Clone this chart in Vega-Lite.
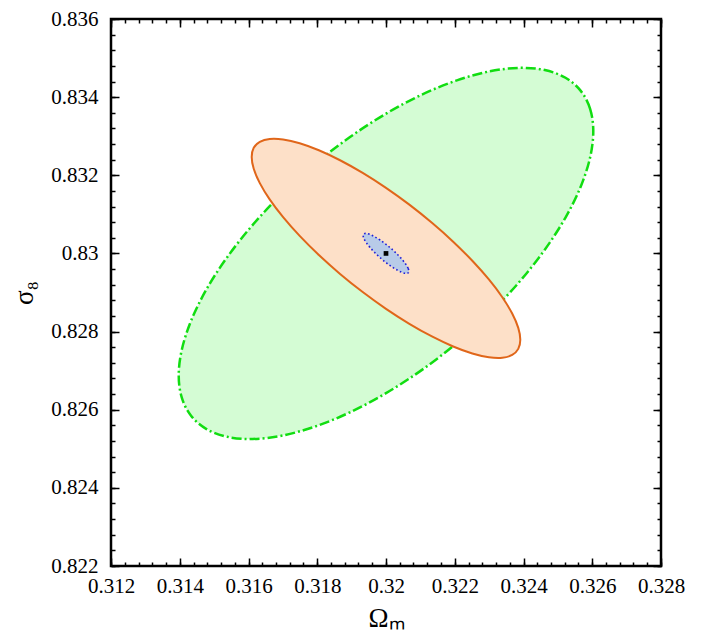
{
  "$schema": "https://vega.github.io/schema/vega-lite/v6.json",
  "width": 550,
  "height": 547,
  "autosize": "none",
  "padding": {"left": 111, "top": 19, "right": 40, "bottom": 71},
  "background": "white",
  "config": {
    "view": {"stroke": "black", "strokeWidth": 2.5},
    "axis": {
      "domain": false,
      "grid": false,
      "tickColor": "black",
      "tickWidth": 1.5,
      "labelFont": "Liberation Serif",
      "labelFontSize": 21,
      "labelColor": "black",
      "labelOverlap": false,
      "labelFlush": false,
      "titleFont": "Liberation Serif",
      "titleFontSize": 27,
      "titleFontWeight": "normal",
      "titleColor": "black"
    }
  },
  "datasets": {
    "green": [
      {"i": 0, "x": 0.32603, "y": 0.833126},
      {"i": 1, "x": 0.325938, "y": 0.8337},
      {"i": 2, "x": 0.325666, "y": 0.83416},
      {"i": 3, "x": 0.325222, "y": 0.834496},
      {"i": 4, "x": 0.324619, "y": 0.834694},
      {"i": 5, "x": 0.323876, "y": 0.834749},
      {"i": 6, "x": 0.323015, "y": 0.834661},
      {"i": 7, "x": 0.322062, "y": 0.83443},
      {"i": 8, "x": 0.321047, "y": 0.834066},
      {"i": 9, "x": 0.32, "y": 0.833577},
      {"i": 10, "x": 0.318953, "y": 0.83298},
      {"i": 11, "x": 0.317938, "y": 0.832292},
      {"i": 12, "x": 0.316985, "y": 0.831535},
      {"i": 13, "x": 0.316124, "y": 0.830731},
      {"i": 14, "x": 0.315381, "y": 0.829904},
      {"i": 15, "x": 0.314778, "y": 0.829082},
      {"i": 16, "x": 0.314334, "y": 0.828286},
      {"i": 17, "x": 0.314062, "y": 0.827542},
      {"i": 18, "x": 0.31397, "y": 0.826874},
      {"i": 19, "x": 0.314062, "y": 0.8263},
      {"i": 20, "x": 0.314334, "y": 0.82584},
      {"i": 21, "x": 0.314778, "y": 0.825504},
      {"i": 22, "x": 0.315381, "y": 0.825306},
      {"i": 23, "x": 0.316124, "y": 0.825251},
      {"i": 24, "x": 0.316985, "y": 0.825339},
      {"i": 25, "x": 0.317938, "y": 0.82557},
      {"i": 26, "x": 0.318953, "y": 0.825934},
      {"i": 27, "x": 0.32, "y": 0.826423},
      {"i": 28, "x": 0.321047, "y": 0.82702},
      {"i": 29, "x": 0.322062, "y": 0.827708},
      {"i": 30, "x": 0.323015, "y": 0.828465},
      {"i": 31, "x": 0.323876, "y": 0.829269},
      {"i": 32, "x": 0.324619, "y": 0.830096},
      {"i": 33, "x": 0.325222, "y": 0.830918},
      {"i": 34, "x": 0.325666, "y": 0.831714},
      {"i": 35, "x": 0.325938, "y": 0.832458}
    ],
    "orange": [
      {"i": 0, "x": 0.323907, "y": 0.82779},
      {"i": 1, "x": 0.323848, "y": 0.828094},
      {"i": 2, "x": 0.323671, "y": 0.828461},
      {"i": 3, "x": 0.323384, "y": 0.828878},
      {"i": 4, "x": 0.322993, "y": 0.829333},
      {"i": 5, "x": 0.322511, "y": 0.829812},
      {"i": 6, "x": 0.321954, "y": 0.830301},
      {"i": 7, "x": 0.321336, "y": 0.830784},
      {"i": 8, "x": 0.320679, "y": 0.831248},
      {"i": 9, "x": 0.32, "y": 0.831678},
      {"i": 10, "x": 0.319322, "y": 0.832061},
      {"i": 11, "x": 0.318664, "y": 0.832385},
      {"i": 12, "x": 0.318047, "y": 0.832641},
      {"i": 13, "x": 0.317489, "y": 0.83282},
      {"i": 14, "x": 0.317007, "y": 0.832918},
      {"i": 15, "x": 0.316616, "y": 0.832931},
      {"i": 16, "x": 0.316329, "y": 0.832858},
      {"i": 17, "x": 0.316152, "y": 0.832703},
      {"i": 18, "x": 0.316093, "y": 0.83247},
      {"i": 19, "x": 0.316152, "y": 0.832166},
      {"i": 20, "x": 0.316329, "y": 0.8318},
      {"i": 21, "x": 0.316616, "y": 0.831383},
      {"i": 22, "x": 0.317007, "y": 0.830928},
      {"i": 23, "x": 0.317489, "y": 0.830448},
      {"i": 24, "x": 0.318047, "y": 0.829959},
      {"i": 25, "x": 0.318664, "y": 0.829476},
      {"i": 26, "x": 0.319322, "y": 0.829012},
      {"i": 27, "x": 0.32, "y": 0.828582},
      {"i": 28, "x": 0.320679, "y": 0.828199},
      {"i": 29, "x": 0.321336, "y": 0.827875},
      {"i": 30, "x": 0.321954, "y": 0.827619},
      {"i": 31, "x": 0.322511, "y": 0.82744},
      {"i": 32, "x": 0.322993, "y": 0.827343},
      {"i": 33, "x": 0.323384, "y": 0.827329},
      {"i": 34, "x": 0.323671, "y": 0.827402},
      {"i": 35, "x": 0.323848, "y": 0.827557}
    ],
    "blue": [
      {"i": 0, "x": 0.320665, "y": 0.829544},
      {"i": 1, "x": 0.320642, "y": 0.82962},
      {"i": 2, "x": 0.320576, "y": 0.829722},
      {"i": 3, "x": 0.32047, "y": 0.829843},
      {"i": 4, "x": 0.320333, "y": 0.829974},
      {"i": 5, "x": 0.320172, "y": 0.830108},
      {"i": 6, "x": 0.32, "y": 0.8302335},
      {"i": 7, "x": 0.319828, "y": 0.830344},
      {"i": 8, "x": 0.319667, "y": 0.83043},
      {"i": 9, "x": 0.31953, "y": 0.830487},
      {"i": 10, "x": 0.319424, "y": 0.830512},
      {"i": 11, "x": 0.319358, "y": 0.8305},
      {"i": 12, "x": 0.319335, "y": 0.830456},
      {"i": 13, "x": 0.319358, "y": 0.83038},
      {"i": 14, "x": 0.319424, "y": 0.830278},
      {"i": 15, "x": 0.31953, "y": 0.830157},
      {"i": 16, "x": 0.319667, "y": 0.830026},
      {"i": 17, "x": 0.319828, "y": 0.829892},
      {"i": 18, "x": 0.32, "y": 0.8297665},
      {"i": 19, "x": 0.320172, "y": 0.829656},
      {"i": 20, "x": 0.320333, "y": 0.82957},
      {"i": 21, "x": 0.32047, "y": 0.829513},
      {"i": 22, "x": 0.320576, "y": 0.829488},
      {"i": 23, "x": 0.320642, "y": 0.8295}
    ],
    "center": [
      {"x": 0.32, "y": 0.83}
    ]
  },
  "resolve": {
    "scale": {"x": "shared", "y": "shared"},
    "axis": {"x": "independent", "y": "independent"}
  },
  "layer": [
    {
      "data": {"name": "green"},
      "mark": {"type": "line", "interpolate": "cardinal-closed", "fill": "#d4fcd4", "stroke": "#11dd11", "strokeWidth": 2.5, "strokeDash": [10, 3, 2, 3]},
      "encoding": {
        "x": {"field": "x", "type": "quantitative",
          "scale": {"domain": [0.312, 0.328], "zero": false, "nice": false},
          "axis": {"orient": "bottom", "values": [0.312, 0.314, 0.316, 0.318, 0.32, 0.322, 0.324, 0.326, 0.328], "format": "~g", "tickSize": -8, "labelPadding": 17, "title": "Ωₘ", "titlePadding": 9}},
        "y": {"field": "y", "type": "quantitative",
          "scale": {"domain": [0.822, 0.836], "zero": false, "nice": false},
          "axis": {"orient": "left", "values": [0.822, 0.824, 0.826, 0.828, 0.83, 0.832, 0.834, 0.836], "format": "~g", "tickSize": -8, "labelPadding": 21, "title": "σ₈", "titlePadding": 12}},
        "order": {"field": "i", "type": "quantitative"}
      }
    },
    {
      "data": {"name": "orange"},
      "mark": {"type": "line", "interpolate": "cardinal-closed", "fill": "#fde0c8", "stroke": "#e0661a", "strokeWidth": 2},
      "encoding": {
        "x": {"field": "x", "type": "quantitative",
          "axis": {"orient": "bottom", "values": [0.312, 0.3124, 0.3128, 0.3132, 0.3136, 0.314, 0.3144, 0.3148, 0.3152, 0.3156, 0.316, 0.3164, 0.3168, 0.3172, 0.3176, 0.318, 0.3184, 0.3188, 0.3192, 0.3196, 0.32, 0.3204, 0.3208, 0.3212, 0.3216, 0.322, 0.3224, 0.3228, 0.3232, 0.3236, 0.324, 0.3244, 0.3248, 0.3252, 0.3256, 0.326, 0.3264, 0.3268, 0.3272, 0.3276, 0.328], "labels": false, "tickSize": -4, "title": null}},
        "y": {"field": "y", "type": "quantitative",
          "axis": {"orient": "left", "values": [0.822, 0.8224, 0.8228, 0.8232, 0.8236, 0.824, 0.8244, 0.8248, 0.8252, 0.8256, 0.826, 0.8264, 0.8268, 0.8272, 0.8276, 0.828, 0.8284, 0.8288, 0.8292, 0.8296, 0.83, 0.8304, 0.8308, 0.8312, 0.8316, 0.832, 0.8324, 0.8328, 0.8332, 0.8336, 0.834, 0.8344, 0.8348, 0.8352, 0.8356, 0.836], "labels": false, "tickSize": -4, "title": null}},
        "order": {"field": "i", "type": "quantitative"}
      }
    },
    {
      "data": {"name": "blue"},
      "mark": {"type": "line", "interpolate": "cardinal-closed", "fill": "#b8cbe8", "stroke": "#1f1fd8", "strokeWidth": 1.6, "strokeDash": [1.6, 2.4]},
      "encoding": {
        "x": {"field": "x", "type": "quantitative",
          "axis": {"orient": "top", "values": [0.312, 0.314, 0.316, 0.318, 0.32, 0.322, 0.324, 0.326, 0.328], "labels": false, "tickSize": -8, "title": null}},
        "y": {"field": "y", "type": "quantitative",
          "axis": {"orient": "right", "values": [0.822, 0.824, 0.826, 0.828, 0.83, 0.832, 0.834, 0.836], "labels": false, "tickSize": -8, "title": null}},
        "order": {"field": "i", "type": "quantitative"}
      }
    },
    {
      "data": {"name": "center"},
      "mark": {"type": "point", "shape": "square", "filled": true, "color": "black", "size": 22, "opacity": 1},
      "encoding": {
        "x": {"field": "x", "type": "quantitative",
          "axis": {"orient": "top", "values": [0.312, 0.3124, 0.3128, 0.3132, 0.3136, 0.314, 0.3144, 0.3148, 0.3152, 0.3156, 0.316, 0.3164, 0.3168, 0.3172, 0.3176, 0.318, 0.3184, 0.3188, 0.3192, 0.3196, 0.32, 0.3204, 0.3208, 0.3212, 0.3216, 0.322, 0.3224, 0.3228, 0.3232, 0.3236, 0.324, 0.3244, 0.3248, 0.3252, 0.3256, 0.326, 0.3264, 0.3268, 0.3272, 0.3276, 0.328], "labels": false, "tickSize": -4, "title": null}},
        "y": {"field": "y", "type": "quantitative",
          "axis": {"orient": "right", "values": [0.822, 0.8224, 0.8228, 0.8232, 0.8236, 0.824, 0.8244, 0.8248, 0.8252, 0.8256, 0.826, 0.8264, 0.8268, 0.8272, 0.8276, 0.828, 0.8284, 0.8288, 0.8292, 0.8296, 0.83, 0.8304, 0.8308, 0.8312, 0.8316, 0.832, 0.8324, 0.8328, 0.8332, 0.8336, 0.834, 0.8344, 0.8348, 0.8352, 0.8356, 0.836], "labels": false, "tickSize": -4, "title": null}}
      }
    }
  ]
}
